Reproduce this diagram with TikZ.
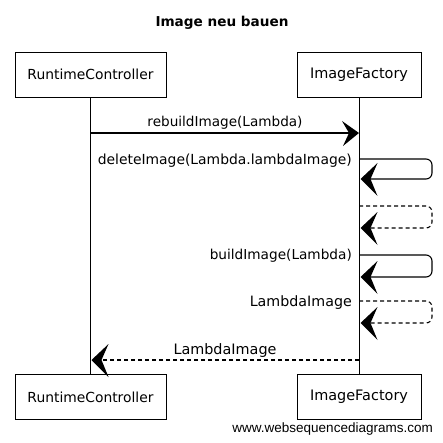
\documentclass[tikz,border=0pt]{standalone}
\usepackage{fontspec}
\usepackage{graphicx}
\setmainfont{DejaVu Sans}
\newfontfamily\wmfont{Liberation Sans}
\newcommand\fitw[2]{\resizebox{#1}{!}{#2}}
\newcommand\myheadR[1]{\fill[line join=round] (#1) -- ++(-17,-12) -- ++(7,12) -- ++(-6,13) -- cycle;}
\newcommand\myheadL[1]{\fill[line join=round] (#1) -- ++(17,-16) -- ++(-7,16) -- ++(7,17) -- cycle;}
\begin{document}
\begin{tikzpicture}[x=1pt,y=-1pt,
  actor/.style={draw, line width=0.8pt, minimum width=#1, minimum height=45pt, inner sep=0pt, fill=white},
  lifeline/.style={line width=0.8pt},
  msg/.style={line width=1.1pt},
  retmsg/.style={msg, dash pattern=on 4pt off 3pt},
  lbl/.style={inner sep=0pt, font=\fontsize{12}{14}\selectfont}]
\useasboundingbox (0,0) rectangle (443,443);
% title
\node[lbl] (title) at (222,23) {\fitw{133pt}{\bfseries Image neu bauen}};
% actors
\node[actor=151pt] (rcTop) at (90.5,74.5) {\fitw{126pt}{RuntimeController}};
\node[actor=124pt] (ifTop) at (359,74.5) {\fitw{98pt}{ImageFactory}};
\node[actor=151pt] (rcBot) at (90.5,397) {\fitw{126pt}{RuntimeController}};
\node[actor=124pt] (ifBot) at (359,397) {\fitw{98pt}{ImageFactory}};
\draw[lifeline] (rcTop.south) -- (rcBot.north);
\draw[lifeline] (ifTop.south) -- (ifBot.north);
% coordinates
\coordinate (a1) at (rcTop.south |- 0,133);
\coordinate (b1) at (ifTop.south |- 0,133);
\coordinate (s1a) at (ifTop.south |- 0,159);
\coordinate (s1b) at ([xshift=1.5pt]ifTop.south |- 0,179);
\coordinate (s2a) at (ifTop.south |- 0,206);
\coordinate (s2b) at ([xshift=1.5pt]ifTop.south |- 0,228);
\coordinate (s3a) at (ifTop.south |- 0,255);
\coordinate (s3b) at ([xshift=1.5pt]ifTop.south |- 0,277);
\coordinate (s4a) at (ifTop.south |- 0,301);
\coordinate (s4b) at ([xshift=1.5pt]ifTop.south |- 0,323);
\coordinate (a6) at ([xshift=1pt]rcTop.south |- 0,360);
\coordinate (b6) at (ifTop.south |- 0,360);
% messages
\draw[msg] (a1) -- ([xshift=-6pt]b1);
\myheadR{b1}
\node[lbl] (l1) at (225,123) {\fitw{155pt}{rebuildImage(Lambda)}};
\draw[msg, rounded corners=6pt] (s1a) -- ++(73,0) |- ([xshift=6pt]s1b);
\myheadL{s1b}
\node[lbl, anchor=east] (l2) at (352,161) {\fitw{254pt}{deleteImage(Lambda.lambdaImage)}};
\draw[retmsg, rounded corners=6pt] (s2a) -- ++(73,0) |- ([xshift=6pt]s2b);
\myheadL{s2b}
\draw[msg, rounded corners=6pt] (s3a) -- ++(73,0) |- ([xshift=6pt]s3b);
\myheadL{s3b}
\node[lbl, anchor=east] (l3) at (352,256) {\fitw{142pt}{buildImage(Lambda)}};
\draw[retmsg, rounded corners=6pt] (s4a) -- ++(73,0) |- ([xshift=6pt]s4b);
\myheadL{s4b}
\node[lbl, anchor=east] (l4) at (352,303) {\fitw{102pt}{LambdaImage}};
\draw[retmsg] (b6) -- ([xshift=6pt]a6);
\myheadL{a6}
\node[lbl] (l5) at (225,351) {\fitw{103pt}{LambdaImage}};
% watermark
\node[inner sep=0pt, anchor=east, font=\wmfont\fontsize{13.5}{15}\selectfont] (wm) at (433,429) {www.websequencediagrams.com};
\end{tikzpicture}
\end{document}
